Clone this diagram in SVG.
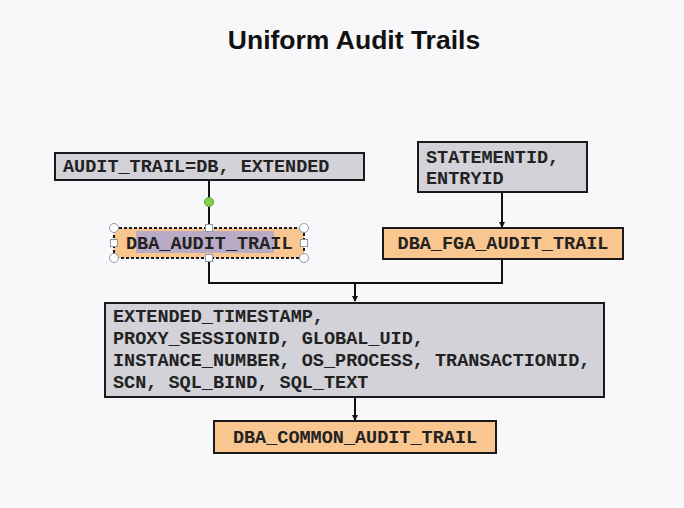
<svg xmlns="http://www.w3.org/2000/svg" width="684" height="508" viewBox="0 0 684 508">
<style>
.box{fill:#d2d2d8;stroke:#1a1a1a;stroke-width:2}
.obox{fill:#f9c690;stroke:#1a1a1a;stroke-width:2}
.t{font-family:"Liberation Mono","Courier New",monospace;font-weight:bold;font-size:18.5px;fill:#222}
.c{fill:none;stroke:#111;stroke-width:2}
.h{fill:#fff;stroke:#8a9aa8;stroke-width:1}
</style>
<defs>
<marker id="ah" markerWidth="6" markerHeight="6" refX="5" refY="3" orient="auto" markerUnits="userSpaceOnUse">
<path d="M0,0 L6,3 L0,6 z" fill="#111"/>
</marker>
</defs>
<rect width="684" height="508" fill="#f8f8fa"/>
<text x="354" y="49" text-anchor="middle" font-family="Liberation Sans, Arial, sans-serif" font-weight="bold" font-size="26.5" fill="#111">Uniform Audit Trails</text>
<g id="connectors">
<path class="c" d="M209,181 V228"/>
<path class="c" d="M502,192 V227" marker-end="url(#ah)"/>
<path class="c" d="M209,259 V283 H502 V259"/>
<path class="c" d="M355,283 V301" marker-end="url(#ah)"/>
<path class="c" d="M355,397 V420" marker-end="url(#ah)"/>
</g>
<g id="audit_trail_param">
<rect class="box" x="55" y="153" width="309" height="27"/>
<text class="t" x="63" y="172">AUDIT_TRAIL=DB, EXTENDED</text>
</g>
<g id="statement_entry">
<rect class="box" x="418" y="142" width="169" height="50"/>
<text class="t" x="426" y="163">STATEMENTID,</text>
<text class="t" x="426" y="184">ENTRYID</text>
</g>
<g id="dba_audit_trail">
<rect class="obox" x="114" y="228" width="190" height="30" stroke-dasharray="3,2"/>
<rect x="136" y="231" width="138" height="22" fill="#b9aac6"/>
<text class="t" x="126" y="249">DBA_AUDIT_TRAIL</text>
<circle class="h" cx="114" cy="228" r="4.5"/>
<circle class="h" cx="304" cy="228" r="4.5"/>
<circle class="h" cx="114" cy="258" r="4.5"/>
<circle class="h" cx="304" cy="258" r="4.5"/>
<rect class="h" x="205.5" y="224.5" width="7" height="7"/>
<rect class="h" x="205.5" y="254.5" width="7" height="7"/>
<rect class="h" x="110.5" y="239.5" width="7" height="7"/>
<rect class="h" x="300.5" y="239.5" width="7" height="7"/>
<circle cx="209" cy="202" r="4.5" fill="#7fd04a" stroke="#5aa030" stroke-width="1"/>
</g>
<g id="dba_fga_audit_trail">
<rect class="obox" x="383" y="228" width="240" height="31"/>
<text class="t" x="503" y="249" text-anchor="middle">DBA_FGA_AUDIT_TRAIL</text>
</g>
<g id="extended_columns">
<rect class="box" x="105" y="303" width="499" height="94"/>
<text class="t" x="113" y="322">EXTENDED_TIMESTAMP,</text>
<text class="t" x="113" y="344">PROXY_SESSIONID, GLOBAL_UID,</text>
<text class="t" x="113" y="366">INSTANCE_NUMBER, OS_PROCESS, TRANSACTIONID,</text>
<text class="t" x="113" y="388">SCN, SQL_BIND, SQL_TEXT</text>
</g>
<g id="dba_common_audit_trail">
<rect class="obox" x="214" y="421" width="282" height="32"/>
<text class="t" x="355" y="443" text-anchor="middle">DBA_COMMON_AUDIT_TRAIL</text>
</g>
</svg>
